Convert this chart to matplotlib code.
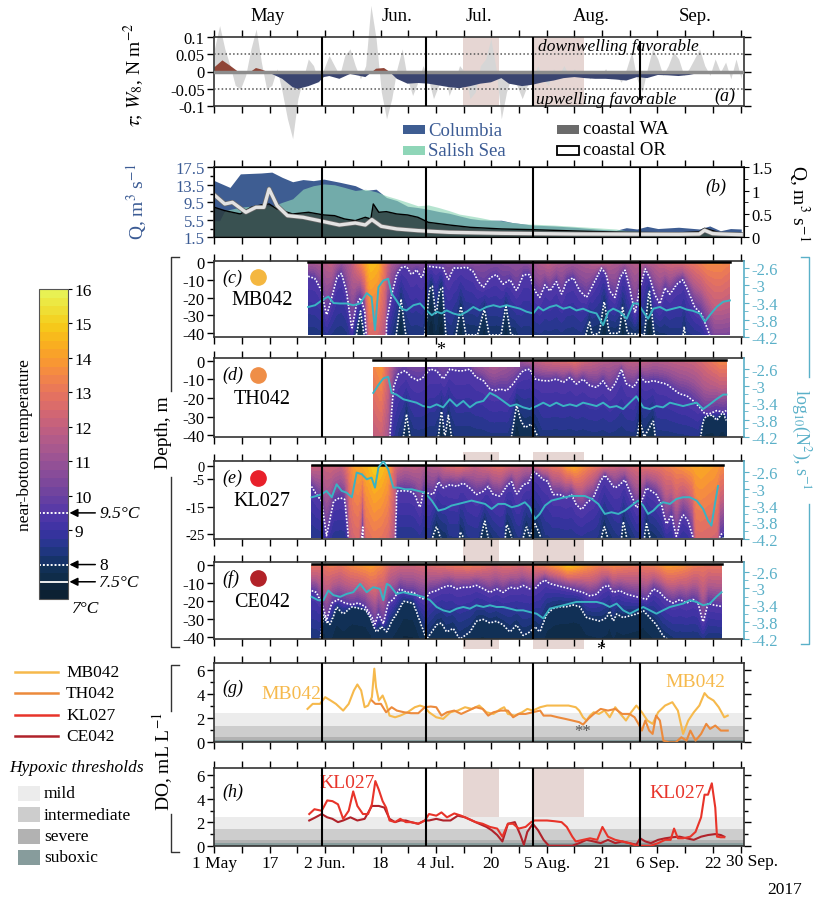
import numpy as np
import matplotlib
matplotlib.use("Agg")
import matplotlib.pyplot as plt
import matplotlib.transforms as mtransforms
import matplotlib.patheffects as pe
from matplotlib.colors import LinearSegmentedColormap
from matplotlib.patches import Rectangle
from matplotlib.lines import Line2D

plt.rcParams['font.family'] = ['Liberation Serif', 'DejaVu Serif']
plt.rcParams['mathtext.fontset'] = 'stix'
plt.rcParams['axes.unicode_minus'] = False

# ---------------- data (days since 1 May 2017) ----------------
TICK_DAYS = list(range(0, 153, 8))
TICK_LABELS = {0: "1 May", 16: "17", 32: "2 Jun.", 48: "18", 64: "4 Jul.", 80: "20",
               96: "5 Aug.", 112: "21", 128: "6 Sep.", 144: "22"}
END_LABEL = (155.3, "30 Sep.")
MONTH_LINES = [31, 61, 92, 123]
MONTH_NAMES = ["May", "Jun.", "Jul.", "Aug.", "Sep."]
MONTH_POS = [15.5, 52.7, 76.3, 109.0, 139.0]
SHADE = [(71.9, 82.3), (92.0, 106.7)]

# (a) wind stress
W8_STEP = 1.507
W8 = [0.065, 0.132, 0.065, 0.017, -0.04, -0.05, -0.011, 0.065, 0.122, 0.027,
      -0.05, -0.04, 0.008, -0.059, -0.136, -0.193, -0.078, -0.021, 0.036, 0.017,
      -0.031, 0.008, 0.046, 0.017, -0.011, 0.046, 0.065, 0.017, -0.021, 0.017,
      0.19, 0.094, -0.059, -0.136, -0.078, 0.008, 0.065, -0.021, -0.069, -0.031,
      0.017, -0.021, -0.078, -0.04, -0.002, -0.069, -0.031, 0.017, -0.002, -0.078,
      -0.059, 0.017, 0.036, 0.094, 0.008, -0.136, -0.059, -0.011, -0.04, -0.078,
      -0.04, -0.021, 0.017, -0.021, -0.04, 0.008, -0.011, 0.017, -0.011, 0.008,
      -0.011, -0.002, -0.021, -0.002, -0.011, 0.008, -0.021, -0.011, -0.031, 0.008,
      0.056, -0.021, -0.059, 0.008, 0.065, 0.036, -0.011, 0.017, 0.056, 0.036,
      -0.011, 0.008, 0.036, 0.065, 0.017, -0.011, 0.036, -0.002, 0.027, -0.021,
      0.036, -0.021]
TAU_DAYS = [0, 2.3, 4.5, 6.8, 9.1, 10.6, 12.0, 13.5, 15.1, 16.6, 19.6, 22.6, 24.1, 27.2, 30.1,
            31.6, 33.2, 36.1, 39.2, 42.2, 43.6, 45.2, 46.7, 49.0, 50.5, 52.7, 55.8, 58.8, 61.8,
            64.8, 67.8, 70.8, 73.9, 76.8, 79.9, 82.9, 85.1, 88.9, 91.9, 94.9, 98.0, 100.9, 104.0,
            107.0, 110.0, 113.0, 116.0, 119.0, 122.1, 125.0, 128.1, 131.0, 134.1, 137.1, 140.1,
            143.1, 146.2, 149.1, 152.2]
TAU = [0.012, 0.032, 0.017, 0, -0.007, 0, 0.010, 0.006, 0, -0.007, -0.021, -0.045, -0.05,
       -0.042, -0.031, -0.016, -0.013, -0.021, -0.007, -0.013, -0.016, -0.004, 0.008, 0.010, 0,
       -0.021, -0.035, -0.033, -0.035, -0.040, -0.045, -0.048, -0.042, -0.035, -0.031, -0.019,
       -0.035, -0.042, -0.038, -0.031, -0.026, -0.019, -0.016, -0.019, -0.021, -0.021, -0.023,
       -0.026, -0.016, -0.019, -0.010, -0.011, -0.013, -0.010, -0.004, -0.004, -0.002, 0, -0.002]
SEP_LINE_SPAN = (-0.079, 0.084)

# (b) river discharge
COL_DAYS = [0, 4.5, 7.5, 13.5, 16.6, 19.6, 22.6, 25.6, 28.6, 31.6, 36.1, 40.7, 43.6, 46.7, 49.7,
            52.7, 55.8, 58.8, 61.8, 64.8, 67.8, 70.8, 73.9, 76.8, 79.9, 82.9, 85.9, 88.9, 91.9,
            98.0, 104.0, 110.0, 116.0, 119.0, 122.1, 125.0, 128.1, 134.1, 140.1, 143.1, 146.2,
            149.1, 152.2]
COLUMBIA = [14.45, 12.9, 16.0, 16.2, 16.4, 15.2, 14.2, 14.7, 14.45, 14.8, 14.1, 13.3, 12.2, 12.5,
            10.6, 9.9, 8.6, 8.3, 7.9, 7.4, 7.0, 6.4, 5.8, 5.5, 5.4, 5.4, 4.9, 4.6, 4.3, 4.1, 3.8,
            3.4, 3.1, 3.7, 3.4, 4.0, 3.5, 3.8, 3.4, 4.1, 3.0, 3.5, 3.4]
SAL_DAYS = [0, 1.5, 3.0, 7.5, 13.5, 16.6, 19.6, 22.6, 25.6, 28.6, 31.6, 34.7, 37.6, 40.7, 43.6,
            46.7, 49.7, 52.7, 55.8, 58.8, 61.8, 64.8, 67.8, 70.8, 73.9, 76.8, 79.9, 82.9, 85.9,
            88.9, 98.0, 104.0, 110.0, 116.0, 119.0, 125.0, 134.1, 143.1, 152.2]
SALISH = [5.3, 5.3, 7.6, 8.4, 8.8, 8.6, 9.5, 10.3, 12.5, 13.3, 13.7, 13.5, 12.9, 12.2, 12.5, 11.9,
          11.0, 10.3, 9.5, 8.7, 8.9, 8.3, 7.6, 6.8, 6.4, 6.0, 5.5, 5.3, 4.9, 4.6, 4.3, 4.0, 3.7,
          3.4, 3.0, 2.8, 2.6, 2.4, 2.2]
WA_DAYS = [0, 3.0, 7.5, 10.6, 13.5, 15.8, 18.1, 22.6, 27.2, 31.6, 34.7, 37.6, 40.7, 43.6, 45.2,
           45.9, 47.5, 49.7, 52.7, 55.8, 58.8, 61.8, 67.8, 73.9, 82.9, 91.9, 104.0, 119.0, 134.1,
           140.1, 141.6, 146.2, 152.2]
COASTAL_WA = [0.643, 0.571, 0.5, 0.643, 0.693, 0.714, 0.607, 0.5, 0.536, 0.479, 0.464, 0.393,
              0.357, 0.429, 0.393, 0.714, 0.536, 0.55, 0.5, 0.479, 0.429, 0.321, 0.264, 0.214,
              0.179, 0.164, 0.136, 0.107, 0.093, 0.121, 0.193, 0.093, 0.064]
OR_DAYS = [0, 3.0, 5.2, 9.1, 12.0, 14.3, 15.8, 18.1, 21.1, 25.6, 31.6, 36.1, 40.7, 43.6, 45.5,
           48.2, 52.7, 58.8, 67.8, 82.9, 104.0, 134.1, 140.1, 141.6, 143.9, 146.2, 152.2]
COASTAL_OR = [0.907, 0.714, 0.75, 0.536, 0.643, 0.643, 1.036, 0.679, 0.464, 0.429, 0.336, 0.264,
              0.307, 0.264, 0.379, 0.236, 0.179, 0.143, 0.107, 0.086, 0.071, 0.064, 0.07, 0.15,
              0.08, 0.071, 0.057]

# (c) MB042: surface temperature, 9.5C and 8C isotherm depths, log10 N2
MB_RANGE = (27.1, 148.9, -41.0)
MB_TS_D = [27.1, 30.8, 33.7, 36.6, 39.5, 41.4, 43.3, 45.2, 47.2, 49.1, 51.0, 53.9, 57.8, 61.6,
           65.5, 69.3, 72.2, 77.0, 81.8, 86.6, 90.5, 92.4, 96.3, 100.1, 104.0, 107.8, 111.7,
           115.5, 119.4, 123.2, 127.1, 130.9, 134.8, 138.6, 142.5, 146.3, 148.9]
MB_TS = [11.3, 11.5, 12.0, 11.0, 11.8, 13.0, 14.0, 14.8, 14.5, 13.0, 11.5, 10.8, 10.6, 10.4,
         10.3, 10.6, 11.0, 10.6, 10.5, 10.8, 10.8, 11.3, 12.0, 11.5, 11.3, 11.5, 12.2, 11.5,
         11.5, 11.8, 11.8, 12.3, 12.6, 13.0, 13.6, 13.6, 13.3]
MB_Z95_D = [27.1, 29.1, 31.0, 32.4, 33.9, 35.3, 36.8, 38.2, 39.7, 41.0, 42.2, 43.5, 44.8, 49.1,
            49.8, 51.2, 52.6, 54.1, 55.5, 57.0, 58.4, 59.9, 61.0, 62.3, 64.2, 66.1, 67.6, 69.0,
            70.9, 72.9, 74.8, 76.2, 77.7, 79.6, 81.5, 83.4, 85.4, 87.3, 89.2, 91.1, 92.6, 94.0,
            95.5, 96.9, 98.8, 100.3, 101.7, 103.7, 105.6, 107.5, 109.4, 111.8, 113.3, 114.2,
            115.7, 117.1, 118.6, 120.0, 121.5, 122.9, 124.4, 125.8, 127.2, 128.7, 130.1, 131.6,
            133.5, 135.4, 136.9, 138.8, 140.7, 142.6, 144.6, 148.9]
MB_Z95 = [-7.9, -9.2, -16.2, -30.0, -19.9, -8.8, -6.1, -16.2, -38, -24, -20, -28, -80, -80,
          -32.8, -18.0, -7.0, -2.9, -2.4, -7.0, -4.2, -8.8, -2.4, -2.4, -2.9, -3.3, -9.8, -3.3,
          -3.3, -2.9, -5.2, -10.7, -14.4, -8.8, -7.0, -12.5, -9.8, -16.2, -7.0, -7.0, -16.2,
          -19.9, -12.5, -16.2, -10.7, -18.0, -10.7, -8.8, -16.2, -19.9, -12.5, -3.3, -7.0,
          -16.2, -19.9, -8.8, -4.2, -14.4, -29.1, -14.4, -3.3, -8.8, -18.0, -23.6, -14.4, -18.0,
          -12.5, -9.8, -16.2, -25.4, -29.1, -38.3, -50, -50]
MB_Z8_D = [27.1, 39.5, 41.0, 42.2, 43.3, 44.3, 51.0, 52.5, 53.9, 55.3, 56.8, 60.2, 61.1, 62.1,
           63.0, 64.0, 65.0, 65.9, 66.9, 68.3, 69.8, 71.2, 72.7, 76.0, 78.0, 79.4, 82.8, 84.2,
           85.7, 87.1, 88.6, 105.9, 107.3, 108.3, 109.2, 111.2, 112.6, 114.1, 116.9, 117.9,
           119.4, 124.2, 125.6, 127.1, 134.8, 135.7, 136.7, 146.3, 147.7, 148.9]
MB_Z8 = [-50, -50, -41, -27, -41, -50, -50, -41, -20, -41, -50, -50, -35, -15, -13.5, -30, -16,
         -14, -41, -50, -41, -24, -41, -41, -26, -41, -41, -24, -41, -41, -50, -50, -41, -33,
         -41, -40, -21.5, -40, -40, -25, -40, -41, -14.5, -41, -50, -36, -50, -50, -34, -40]
MB_N2_D = [27.1, 29.1, 31.0, 32.9, 34.4, 36.3, 38.2, 40.1, 42.1, 44.0, 45.4, 46.4, 47.4, 48.8,
           50.2, 51.2, 52.6, 54.1, 55.5, 57.5, 59.4, 61.3, 62.8, 64.2, 65.6, 67.1, 69.0, 70.9,
           72.9, 74.8, 76.7, 78.6, 80.6, 82.5, 84.4, 86.3, 88.3, 90.2, 92.1, 93.6, 95.0, 96.9,
           98.8, 100.8, 102.7, 104.6, 106.5, 108.5, 110.4, 112.3, 113.8, 115.2, 117.1, 119.1,
           121.0, 122.4, 123.9, 125.3, 126.8, 128.7, 130.6, 132.5, 134.5, 136.4, 138.3, 140.2,
           141.7, 143.1, 145.1, 147.0, 148.9]
MB_N2 = [-3.50, -3.46, -3.35, -3.26, -3.41, -3.42, -3.42, -3.46, -3.42, -3.18, -3.27, -4.03,
         -3.04, -2.89, -2.85, -3.19, -3.35, -3.54, -3.58, -3.46, -3.42, -3.58, -3.69, -3.61,
         -3.65, -3.58, -3.65, -3.69, -3.61, -3.50, -3.58, -3.50, -3.46, -3.50, -3.46, -3.50,
         -3.54, -3.61, -3.65, -3.50, -3.58, -3.50, -3.46, -3.54, -3.50, -3.58, -3.54, -3.61,
         -3.65, -3.92, -3.61, -3.54, -3.61, -3.77, -3.42, -3.42, -3.61, -3.77, -3.54, -3.50,
         -3.58, -3.54, -3.50, -3.56, -3.59, -3.65, -3.84, -3.69, -3.50, -3.38, -3.35]

# (d) TH042
TH_RANGE = (45.9, 147.9, -41.0)
TH_GAP = (88.4, -3.4)   # no data above this depth before this day
TH_TS_D = [45.9, 48.1, 50.7, 52.9, 57.8, 61.6, 65.5, 69.3, 73.2, 77.0, 80.9, 84.7, 88.6, 92.4,
           96.3, 100.1, 104.0, 107.8, 111.7, 115.5, 119.4, 123.2, 127.1, 130.9, 134.8, 138.6,
           142.5, 146.3, 147.9]
TH_TS = [13.5, 14.0, 12.0, 10.6, 10.4, 10.6, 10.5, 10.6, 10.8, 11.5, 11.8, 11.3, 11.0, 11.8,
         12.3, 12.5, 12.8, 12.2, 11.8, 11.5, 11.8, 12.0, 11.6, 11.8, 12.0, 12.2, 12.8, 13.5, 13.5]
TH_Z95_D = [45.9, 50.0, 50.7, 51.7, 53.1, 55.1, 57.0, 58.9, 60.3, 62.3, 64.2, 66.1, 68.0, 70.0,
            71.9, 73.8, 75.7, 77.7, 79.6, 81.0, 82.5, 84.4, 86.3, 88.3, 89.2, 91.1, 92.6, 95.0,
            96.9, 98.8, 100.8, 102.7, 104.6, 106.5, 108.5, 110.4, 112.3, 114.2, 115.7, 117.6,
            119.1, 121.0, 122.9, 124.8, 126.8, 128.7, 130.6, 132.5, 134.5, 136.4, 138.3, 140.2,
            141.7, 143.1, 145.1, 147.0, 147.9]
TH_Z95 = [-80, -80, -39.4, -14.2, -7.0, -5.2, -8.8, -10.6, -8.8, -4.3, -5.2, -9.7, -4.3, -5.2,
          -5.2, -4.3, -8.8, -10.6, -15.1, -16.0, -15.1, -16.0, -12.4, -7.0, -5.2, -4.3, -9.7,
          -10.6, -10.6, -9.7, -11.5, -8.8, -12.4, -9.7, -13.3, -14.2, -10.6, -16.0, -12.4, -4.3,
          -12.4, -14.2, -8.8, -11.5, -10.6, -11.5, -12.4, -15.1, -17.8, -18.7, -21.4, -25.0,
          -28.6, -28.6, -26.8, -27.7, -26.8]
TH_Z8_D = [45.9, 46.9, 47.8, 48.8, 49.6, 53.4, 54.6, 55.5, 56.5, 57.8, 63.5, 64.7, 65.6, 66.6,
           67.6, 68.5, 69.8, 84.7, 85.8, 87.3, 88.5, 89.7, 91.6, 93.5, 94.8, 121.3, 122.9, 124.2,
           126.8, 128.0, 139.6, 141.2, 143.1, 145.1, 147.0, 147.9]
TH_Z8 = [-90, -90, -90, -90, -90, -50, -41, -28.6, -41, -50, -50, -41, -26, -41, -29, -41, -50,
         -50, -41, -23.4, -32, -36, -34, -41, -50, -50, -32, -41, -32, -50, -50, -32, -27, -32,
         -27, -32]
TH_N2_D = [45.9, 47.4, 48.8, 50.2, 51.2, 52.6, 54.6, 56.5, 58.4, 60.3, 62.3, 64.2, 66.1, 68.0,
           70.0, 71.9, 73.8, 75.7, 77.7, 79.6, 81.5, 83.4, 85.4, 87.3, 89.2, 91.1, 93.1, 95.0,
           96.9, 98.8, 100.8, 102.7, 104.6, 106.5, 108.5, 110.4, 112.3, 114.2, 116.2, 118.1,
           120.0, 121.9, 123.9, 125.8, 127.7, 129.6, 131.6, 133.5, 135.4, 137.3, 139.3, 141.2,
           143.1, 145.0, 147.0, 147.9]
TH_N2 = [-3.17, -2.98, -2.83, -2.79, -3.17, -3.21, -3.32, -3.36, -3.40, -3.48, -3.51, -3.44,
         -3.51, -3.32, -3.48, -3.36, -3.51, -3.40, -3.36, -3.17, -3.25, -3.36, -3.48, -3.44,
         -3.51, -3.55, -3.48, -3.40, -3.48, -3.40, -3.48, -3.44, -3.48, -3.40, -3.44, -3.48,
         -3.40, -3.51, -3.48, -3.55, -3.40, -3.25, -3.51, -3.55, -3.48, -3.51, -3.40, -3.44,
         -3.48, -3.44, -3.40, -3.55, -3.44, -3.32, -3.21, -3.21]

# (e) KL027
KL_RANGE = (28.1, 147.0, -26.3)
KL_TS_D = [28.1, 30.8, 33.7, 36.6, 38.5, 40.4, 42.4, 44.3, 46.2, 48.1, 50.0, 52.0, 54.9, 57.8,
           61.6, 65.5, 67.4, 71.2, 75.1, 78.9, 82.8, 86.6, 90.5, 92.4, 96.3, 100.1, 102.0, 104.0,
           105.9, 109.7, 113.6, 117.4, 121.3, 125.1, 129.0, 132.8, 136.7, 140.5, 144.4, 147.0]
KL_TS = [12.2, 12.0, 12.3, 12.0, 13.0, 14.0, 14.3, 14.5, 15.0, 14.8, 14.3, 12.5, 11.8, 12.0,
         11.5, 12.0, 12.5, 12.8, 12.0, 12.5, 12.8, 12.3, 11.8, 12.5, 12.8, 13.2, 14.0, 14.3,
         13.8, 13.0, 12.5, 12.0, 12.5, 12.8, 13.0, 13.5, 14.0, 14.3, 14.0, 13.6]
KL_Z95_D = [28.1, 29.5, 31.0, 32.4, 34.4, 36.3, 37.7, 38.7, 39.2, 41.5, 42.8, 44.0, 51.7, 52.6,
            54.6, 56.5, 57.9, 59.4, 60.3, 61.3, 63.2, 64.7, 66.1, 68.0, 70.0, 71.9, 73.8, 75.7,
            77.7, 79.1, 80.6, 82.5, 84.4, 85.9, 87.3, 89.2, 90.7, 92.1, 93.6, 95.0, 96.4, 97.9,
            99.8, 101.7, 103.2, 104.6, 106.1, 107.5, 109.4, 111.4, 112.8, 114.2, 115.7, 117.1,
            118.6, 120.0, 122.0, 123.4, 124.8, 126.3, 127.7, 129.2, 130.6, 132.1, 133.5, 134.5,
            135.4, 136.9, 138.3, 139.3, 145.1, 146.0, 147.0]
KL_Z95 = [-7.5, -10.5, -12.9, -25.7, -12.9, -11.7, -12.3, -25.7, -60, -60, -20, -60, -60, -9.3,
          -9.1, -9.3, -10.5, -15.4, -9.3, -9.9, -10.5, -5.7, -8.1, -6.9, -7.5, -6.3, -8.1, -10.5,
          -9.3, -7.5, -10.5, -11.1, -7.5, -5.7, -10.5, -6.9, -6.3, -2.1, -3.3, -5.1, -5.7,
          -10.5, -10.5, -11.7, -10.5, -14.2, -16.0, -13.6, -11.7, -5.7, -3.3, -5.7, -8.1, -6.9,
          -5.1, -9.3, -15.4, -12.9, -8.1, -9.3, -10.5, -14.2, -21.4, -17.8, -26.3, -20.2, -17.8,
          -20.2, -26.3, -60, -60, -25.7, -24.4]
KL_Z8_D = [28.1, 62.1, 63.0, 64.2, 65.2, 67.1, 67.9, 70.3, 70.9, 71.9, 73.2, 76.0, 77.0, 78.1,
           79.1, 83.3, 84.4, 85.9, 88.1, 89.2, 90.2, 91.1, 92.6, 94.0, 95.8, 110.7, 111.8,
           112.6, 113.6, 116.9, 118.1, 119.1, 123.2, 124.2, 124.8, 125.8, 132.8, 144.4, 146.0,
           147.0]
KL_Z8 = [-35, -35, -26, -22, -26, -28, -35, -35, -24, -26, -35, -35, -26, -20, -26, -35, -21,
         -26, -35, -26, -22, -26, -21, -25, -35, -35, -26, -22, -26, -35, -20, -26, -35, -26,
         -21, -26, -35, -35, -28, -26]
KL_N2_D = [28.1, 29.5, 31.0, 32.4, 33.9, 35.3, 36.8, 38.2, 39.7, 41.1, 42.6, 44.0, 45.4, 46.4,
           47.4, 48.8, 50.2, 51.7, 53.1, 55.1, 57.0, 58.9, 60.8, 62.8, 64.7, 66.6, 68.5, 70.5,
           72.4, 74.3, 76.2, 78.2, 80.1, 82.0, 83.9, 85.9, 87.8, 89.7, 91.1, 92.6, 94.0, 95.5,
           97.4, 99.3, 101.3, 103.2, 105.1, 107.0, 109.0, 110.9, 112.8, 114.7, 116.7, 118.6,
           120.5, 122.4, 123.9, 125.3, 126.8, 128.2, 129.6, 131.6, 133.5, 135.4, 137.3, 139.3,
           141.2, 142.6, 143.6, 144.6, 145.5]
KL_N2 = [-3.20, -3.17, -3.13, -3.05, -3.20, -2.89, -3.05, -3.09, -3.20, -2.61, -2.65, -2.77,
         -2.73, -2.97, -2.49, -2.33, -2.53, -2.97, -2.97, -3.01, -3.01, -3.05, -3.09, -3.28,
         -3.52, -3.48, -3.40, -3.36, -3.32, -3.28, -3.32, -3.36, -3.48, -3.36, -3.36, -3.44,
         -3.40, -3.32, -3.44, -3.72, -3.60, -3.40, -3.28, -3.24, -3.20, -3.17, -3.17, -3.17,
         -3.24, -3.36, -3.60, -3.56, -3.60, -3.52, -3.40, -3.28, -3.40, -3.60, -3.52, -3.40,
         -3.32, -3.36, -3.24, -3.20, -3.20, -3.28, -3.48, -3.76, -3.88, -3.36, -2.93]

# (f) CE042
CE_RANGE = (28.1, 146.6, -41.0)
CE_TS_D = [28.1, 30.8, 33.7, 36.6, 39.5, 42.4, 45.2, 48.1, 51.0, 53.9, 57.8, 61.6, 65.5, 69.3,
           73.2, 77.0, 80.9, 84.7, 88.6, 92.4, 96.3, 100.1, 102.0, 104.0, 107.8, 111.7, 115.5,
           119.4, 123.2, 127.1, 130.9, 134.8, 138.6, 142.5, 146.6]
CE_TS = [13.0, 12.8, 13.2, 13.0, 13.5, 13.8, 14.0, 13.5, 12.5, 12.3, 12.3, 12.5, 12.8, 13.0,
         13.2, 13.0, 12.5, 12.8, 12.5, 13.0, 13.5, 14.2, 14.8, 14.5, 13.8, 13.2, 13.5, 13.2,
         13.0, 13.3, 14.0, 13.8, 13.2, 13.0, 13.0]
CE_Z95_D = [28.1, 29.5, 31.0, 32.4, 33.9, 35.8, 37.7, 39.7, 41.6, 43.5, 45.4, 46.4, 47.4, 48.8,
            50.2, 51.7, 53.6, 55.5, 57.5, 59.4, 60.8, 62.3, 64.2, 66.1, 68.0, 70.0, 71.9, 73.8,
            75.7, 77.7, 79.6, 81.5, 83.4, 85.4, 87.3, 89.2, 91.1, 92.6, 94.0, 95.5, 96.9, 98.8,
            100.8, 102.7, 104.6, 106.5, 108.5, 110.4, 112.3, 113.8, 115.2, 117.1, 119.1, 121.0,
            122.9, 124.8, 126.8, 128.7, 130.6, 132.5, 134.5, 136.4, 138.3, 139.8, 141.2, 142.6,
            144.1, 146.6]
CE_Z95 = [-14.1, -15.1, -21.0, -30.8, -21.0, -19.0, -21.0, -22.0, -21.0, -22.9, -28.8, -32.7,
          -26.9, -32.7, -21.0, -19.0, -13.1, -15.1, -15.1, -18.0, -19.0, -15.1, -14.1, -12.2,
          -11.2, -13.1, -12.2, -12.2, -11.2, -13.1, -15.1, -13.1, -15.1, -12.2, -13.1, -11.2,
          -13.1, -13.1, -10.2, -8.2, -10.2, -11.2, -12.2, -13.1, -14.1, -15.1, -17.1, -16.1,
          -12.2, -11.2, -15.1, -14.1, -16.1, -17.1, -18.0, -19.0, -13.1, -15.1, -19.0, -21.0,
          -19.0, -21.0, -19.0, -21.0, -31.8, -21.0, -22.0, -22.9]
CE_Z8_D = [28.1, 30.3, 31.5, 33.4, 35.3, 37.2, 39.7, 42.1, 44.5, 45.9, 46.9, 48.3, 49.8, 51.2,
           52.6, 54.6, 57.5, 59.4, 61.3, 64.2, 65.6, 67.1, 69.0, 70.9, 73.8, 75.7, 77.7, 79.6,
           81.5, 83.4, 85.4, 87.3, 89.2, 91.1, 92.6, 94.0, 96.0, 97.9, 99.8, 101.7, 103.7, 105.6,
           107.5, 109.4, 111.4, 113.3, 114.2, 115.2, 116.2, 118.1, 120.0, 122.0, 123.9, 125.8,
           127.7, 129.6, 131.6, 133.5, 146.6]
CE_Z8 = [-45, -45, -27, -33, -23, -27, -23, -24, -25, -33, -37, -34, -37, -31, -27, -20, -21,
         -31, -41, -33, -32, -37, -35, -41, -37, -31, -30, -32, -31, -33, -37, -33, -39, -37,
         -34, -37, -27, -24, -23, -23, -22, -23, -29, -30, -31, -29, -25, -31, -27, -29, -28,
         -27, -25, -29, -33, -39, -42, -45, -45]
CE_N2_D = [28.1, 30.0, 31.5, 32.9, 34.4, 36.3, 38.2, 40.1, 42.1, 44.0, 45.9, 47.8, 48.8, 49.8,
           50.7, 52.6, 54.6, 56.5, 58.4, 60.3, 62.3, 64.2, 66.1, 68.0, 70.0, 71.9, 73.8, 75.7,
           77.7, 79.6, 81.5, 83.4, 85.4, 87.3, 89.2, 91.1, 93.1, 95.0, 96.9, 98.8, 100.8, 102.7,
           104.6, 106.5, 108.5, 110.4, 112.3, 114.2, 116.2, 118.1, 120.0, 121.9, 123.9, 125.8,
           127.7, 129.6, 131.6, 133.5, 135.4, 137.3, 139.3, 141.2, 143.1, 145.0, 146.5]
CE_N2 = [-3.20, -3.28, -3.28, -3.05, -3.16, -3.20, -3.13, -3.09, -2.89, -3.09, -2.97, -3.01,
         -3.28, -2.89, -2.93, -3.13, -3.09, -3.13, -3.16, -3.20, -3.28, -3.44, -3.52, -3.56,
         -3.48, -3.44, -3.48, -3.40, -3.44, -3.40, -3.44, -3.44, -3.48, -3.52, -3.52, -3.56,
         -3.60, -3.71, -3.48, -3.44, -3.40, -3.36, -3.32, -3.32, -3.32, -3.32, -3.36, -3.44,
         -3.36, -3.52, -3.60, -3.52, -3.44, -3.52, -3.60, -3.52, -3.44, -3.40, -3.36, -3.28,
         -3.32, -3.40, -3.36, -3.20, -3.09]

# (g), (h) dissolved oxygen, mL/L
MB_DO_D = [26.9, 28.4, 30.5, 32.0, 33.6, 35.1, 37.2, 38.8, 40.3, 41.3, 42.4, 43.4, 44.4, 45.5,
           46.2, 46.7, 47.5, 48.6, 49.6, 50.6, 52.2, 53.7, 55.8, 57.9, 59.4, 60.8, 62.0, 64.1,
           66.1, 68.2, 70.3, 72.4, 74.4, 76.5, 78.6, 80.6, 82.7, 83.7, 84.8, 86.8, 88.9, 90.4,
           92.0, 94.1, 96.1, 98.2, 100.3, 102.3, 104.4, 105.4, 106.5, 107.5, 108.5, 109.6, 111.1,
           112.7, 114.2, 115.8, 117.3, 118.9, 120.4, 121.9, 123.5, 125.1, 126.6, 128.2, 130.2,
           132.3, 133.9, 135.4, 136.9, 138.5, 140.1, 141.6, 142.6, 144.2, 145.7, 147.3, 148.3]
MB_DO = [2.79, 3.21, 3.21, 3.77, 3.49, 3.21, 2.65, 3.21, 4.33, 4.83, 4.33, 2.93, 3.07, 3.77,
         6.15, 4.61, 3.49, 3.91, 3.21, 2.23, 2.09, 2.23, 2.51, 2.93, 3.07, 2.93, 2.51, 2.09, 1.96,
         2.51, 2.65, 2.93, 2.79, 3.07, 2.51, 2.37, 2.79, 2.93, 2.37, 2.23, 2.51, 2.79, 2.65,
         2.93, 3.07, 3.07, 3.07, 3.07, 2.93, 2.65, 2.09, 1.82, 2.23, 2.51, 2.37, 2.65, 2.09,
         2.93, 2.37, 1.82, 2.51, 3.07, 2.51, 1.82, 1.54, 2.51, 3.07, 3.35, 2.65, 0.70, 1.82,
         2.51, 3.07, 4.11, 3.77, 3.49, 2.93, 2.09, 2.23]
TH_DO_D = [45.5, 46.5, 48.1, 49.6, 51.2, 52.7, 54.8, 56.8, 58.9, 60.8, 62.5, 64.1, 65.6, 67.2,
           69.3, 71.3, 73.4, 75.5, 77.5, 79.1, 80.6, 82.7, 84.8, 86.3, 87.9, 89.9, 92.0, 94.1,
           95.1, 97.2, 99.2, 101.3, 103.4, 105.4, 106.5, 108.0, 109.6, 111.6, 113.7, 115.8,
           117.8, 119.9, 121.4, 122.5, 123.5, 124.5, 125.6, 126.6, 127.6, 128.7, 129.7, 131.3,
           133.3, 134.9, 136.4, 137.5, 139.0, 140.6, 142.1, 143.2, 144.7, 146.3, 148.3]
TH_DO = [3.49, 3.21, 3.21, 2.51, 2.93, 2.65, 2.51, 2.43, 2.43, 2.93, 2.99, 2.93, 2.23, 2.51,
         2.65, 2.37, 2.65, 2.93, 2.79, 2.23, 2.51, 2.65, 2.65, 2.09, 2.37, 2.37, 2.51, 2.65,
         2.23, 2.23, 2.09, 1.96, 1.82, 1.68, 1.48, 1.96, 2.37, 2.79, 2.65, 2.79, 2.37, 2.37,
         2.09, 1.54, 0.98, 1.82, 0.98, 0.70, 2.23, 1.82, 0.14, 0.0, 0.0, 0.42, 0.14, 0.98, 0.14,
         0.70, 1.54, 1.12, 1.40, 0.98, 0.98]
KL_DO_D = [27.4, 28.9, 31.0, 32.6, 34.1, 35.7, 37.2, 38.8, 40.1, 41.3, 42.9, 44.4, 45.5, 46.5,
           47.5, 48.6, 49.6, 50.6, 52.2, 53.7, 55.3, 56.8, 58.9, 60.8, 62.0, 64.1, 65.6, 67.2,
           69.3, 71.3, 73.4, 75.5, 77.5, 79.6, 81.7, 83.2, 84.8, 86.3, 87.9, 89.9, 91.5, 92.5,
           94.1, 96.1, 98.2, 100.3, 101.8, 103.4, 104.4, 106.5, 108.5, 110.6, 112.1, 113.7,
           115.8, 117.8, 119.9, 121.9, 124.0, 126.1, 128.2, 130.2, 131.8, 132.8, 133.9, 135.4,
           137.5, 139.0, 140.6, 141.6, 142.6, 143.7, 144.7, 145.2, 146.3, 147.3]
KL_DO = [2.70, 3.11, 2.98, 3.86, 3.80, 3.53, 2.29, 2.98, 4.63, 3.39, 2.70, 2.70, 3.53, 5.51,
         4.77, 3.80, 3.25, 2.15, 2.01, 2.29, 2.01, 2.01, 1.87, 2.15, 2.70, 2.56, 2.84, 2.42,
         2.75, 2.56, 2.29, 2.01, 1.87, 1.60, 1.46, 0.77, 1.87, 1.87, 1.46, 1.60, 2.01, 2.15,
         2.15, 2.15, 2.09, 2.01, 1.60, 0.77, 0.36, 0.50, 0.63, 0.50, 1.60, 0.77, 0.50, 0.36,
         0.22, 0.0, 0.0, 0.0, 0.22, 0.50, 0.50, 1.46, 0.63, 0.63, 0.77, 1.18, 2.42, 4.35, 4.35,
         5.32, 3.25, 0.77, 0.72, 0.72]
CE_DO_D = [27.4, 28.9, 31.0, 32.6, 34.1, 35.7, 37.2, 39.3, 41.3, 43.4, 45.5, 47.5, 49.1, 50.6,
           52.2, 53.7, 55.3, 56.8, 58.9, 60.8, 62.0, 64.1, 66.1, 68.2, 70.3, 72.4, 74.4, 76.5,
           78.6, 80.1, 81.7, 83.2, 84.8, 86.8, 88.4, 89.4, 90.4, 92.0, 93.5, 95.1, 96.6, 99.2,
           103.4, 105.4, 107.5, 109.6, 111.6, 113.7, 115.8, 117.8, 119.9, 121.9, 123.0, 124.5,
           126.1, 128.2, 130.2, 132.3, 134.4, 136.4, 138.5, 140.6, 142.6, 144.7, 146.3, 147.3]
CE_DO = [2.15, 2.37, 2.70, 2.42, 2.29, 2.01, 2.15, 2.42, 2.15, 2.29, 3.39, 3.39, 3.25, 2.29,
         2.01, 2.15, 2.15, 2.01, 1.87, 2.15, 2.15, 2.29, 2.15, 2.15, 2.56, 2.42, 2.15, 1.87,
         1.60, 1.32, 0.91, 0.36, 1.87, 2.01, 0.91, 0.08, 1.18, 1.87, 1.32, 0.50, 0.0, 0.0, 0.0,
         0.22, 0.50, 0.36, 0.22, 0.50, 0.22, 0.36, 0.22, 0.08, 0.63, 0.36, 0.22, 0.50, 0.63,
         0.72, 0.77, 0.63, 0.50, 0.77, 0.91, 0.99, 0.91, 0.77]
HYPOXIA_NAMES = ["mild", "intermediate", "severe", "suboxic"]
HYPOXIA_TOP = [2.46, 1.40, 0.47, 0.20]
HYPOXIA_COLORS = ["#ececec", "#cdcdcd", "#b2b2b2", "#879c9c"]

# ---------------- styling ----------------
W_PX, H_PX = 818, 903
X0, X1 = 214.4, 744.0
TICK_FS = 12
BLUE_TXT = "#3b5b94"
N2_COLOR = "#5ab0c8"
SHADE_COLOR = "#e6d6d3"
STATION_COLORS = {"MB042": "#f4b740", "TH042": "#ef8e47", "KL027": "#e8202a", "CE042": "#b22228"}
DO_COLORS = {"MB042": "#f6b94c", "TH042": "#ec8a3c", "KL027": "#e8342a", "CE042": "#b0222a"}
THERMAL = ['#0b1e2e', '#0e2a44', '#12325e', '#23378a', '#3b32a3', '#5438a8', '#6c429f',
           '#824a9a', '#975295', '#ad5a8c', '#c2607f', '#d6686f', '#e7745d', '#f38647',
           '#f99c2d', '#f9b41c', '#f5cd1a', '#eee23a', '#e6f55a']
cmap = LinearSegmentedColormap.from_list("thermal", THERMAL)
LEVELS = np.arange(7.0, 16.001, 0.25)


def box(top, bot):
    return [X0 / W_PX, 1 - bot / H_PX, (X1 - X0) / W_PX, (bot - top) / H_PX]


def style(ax, line_ax=None, labels=False, sep_span=None):
    ax.set_xlim(0, 153)
    ax.set_xticks(TICK_DAYS)
    ax.set_xticklabels([TICK_LABELS.get(d, "") for d in TICK_DAYS])
    ax.tick_params(axis='x', direction='out', top=True, bottom=True, length=5, width=1,
                   labelbottom=labels, labelsize=TICK_FS + 0.5, pad=2)
    ax.tick_params(axis='y', which='both', direction='out', width=1, labelsize=TICK_FS, pad=2)
    ax.tick_params(axis='y', which='major', length=5)
    ax.tick_params(axis='y', which='minor', length=3)
    for s in ax.spines.values():
        s.set_linewidth(1.2)
        s.set_color('#333333')
    tgt = line_ax if line_ax is not None else ax
    for i, d in enumerate(MONTH_LINES):
        if sep_span is not None and i == len(MONTH_LINES) - 1:
            lo, hi = ax.get_ylim()
            tgt.axvline(d, ymin=(sep_span[0] - lo) / (hi - lo), ymax=(sep_span[1] - lo) / (hi - lo),
                        color='black', lw=1.5, zorder=5)
        else:
            tgt.axvline(d, color='black', lw=1.5, zorder=5)


def temp_field(rng, ts_d, ts_v, a_d, a_v, b_d, b_v):
    t0, t1, zbot = rng
    t = np.linspace(t0, t1, 500)
    z = np.linspace(zbot, 0.0, 160)
    ts = np.maximum(np.interp(t, ts_d, ts_v), 9.6)
    a = np.interp(t, a_d, a_v)
    b = np.minimum(np.interp(t, b_d, b_v), a - 1.0)
    T = np.empty((z.size, t.size))
    for j in range(t.size):
        xp = [0.0, -0.5 * a[j], -a[j], -b[j], -b[j] + 30.0]
        fp = [ts[j], 9.5 + 0.6 * (ts[j] - 9.5), 9.5, 8.0, 7.2]
        T[:, j] = np.interp(-z, xp, fp)
    return t, z, np.clip(T, 7.01, 15.99)


fig = plt.figure(figsize=(W_PX / 100, H_PX / 100), dpi=100)

# ---------------- (a) ----------------
ax_a = fig.add_axes(box(37.7, 107.3))
ax_a.set_ylim(-0.1, 0.1)
style(ax_a, sep_span=SEP_LINE_SPAN)
ax_a.set_yticks([-0.1, -0.05, 0, 0.05, 0.1])
ax_a.set_yticklabels(["-0.1", "-0.05", "0", "0.05", "0.1"])
ax_a.tick_params(axis='y', right=True)
for s0, s1 in SHADE:
    ax_a.axvspan(s0, s1, color=SHADE_COLOR, lw=0, zorder=0.5)
w8_days = np.arange(len(W8)) * W8_STEP
ax_a.fill_between(w8_days, 0, W8, color='#d6d6d6', lw=0, zorder=1, clip_on=False)
tau = np.array(TAU)
ax_a.fill_between(TAU_DAYS, 0, tau, where=tau >= 0, interpolate=True, color='#8f4537', lw=0, zorder=2)
ax_a.fill_between(TAU_DAYS, 0, tau, where=tau <= 0, interpolate=True, color='#3a4570', lw=0, zorder=2)
ax_a.axhline(0, color='#8c8c8c', lw=2.5, zorder=3)
for yv in (0.05, -0.05):
    ax_a.axhline(yv, color='#555555', ls=(0, (1, 1.5)), lw=1.1, zorder=3)
ax_a.text(93.5, 0.072, "downwelling favorable", style='italic', fontsize=12.5, va='center', zorder=6)
ax_a.text(93.0, -0.078, "upwelling favorable", style='italic', fontsize=12.5, va='center', zorder=6)
ax_a.text(150.4, -0.068, "(a)", style='italic', fontsize=13, ha='right', va='center', zorder=6)
top_tr = mtransforms.blended_transform_factory(ax_a.transData, ax_a.transAxes)
for name, d in zip(MONTH_NAMES, MONTH_POS):
    ax_a.text(d, 1.30, name, transform=top_tr, ha='center', va='center', fontsize=13.5)


def fig_rect(x, ytop, w, h, **kw):
    fig.add_artist(Rectangle((x / W_PX, 1 - (ytop + h) / H_PX), w / W_PX, h / H_PX,
                             transform=fig.transFigure, **kw))


# legend between (a) and (b)
fig_rect(403, 126, 22, 9, color='#3e5d92', lw=0)
fig_rect(403, 147, 22, 9, color='#8fd6b8', lw=0)
fig_rect(557, 126, 22, 9, color='#6b6b6b', lw=0)
fig_rect(557, 147, 22, 9, facecolor='white', edgecolor='black', lw=1.3)
fig.text(428 / W_PX, 1 - 131 / H_PX, "Columbia", color=BLUE_TXT, fontsize=13.5, va='center')
fig.text(428 / W_PX, 1 - 152 / H_PX, "Salish Sea", color=BLUE_TXT, fontsize=13.5, va='center')
fig.text(583 / W_PX, 1 - 130 / H_PX, "coastal WA", fontsize=13.5, va='center')
fig.text(583 / W_PX, 1 - 151 / H_PX, "coastal OR", fontsize=13.5, va='center')

# ---------------- (b) ----------------
ax_b = fig.add_axes(box(168.3, 238.3))
ax_b2 = ax_b.twinx()
style(ax_b, line_ax=ax_b2)
ax_b.set_ylim(1.5, 17.5)
ax_b.set_yticks([1.5, 5.5, 9.5, 13.5, 17.5])
ax_b.set_yticks([3.5, 7.5, 11.5, 15.5], minor=True)
ax_b.tick_params(axis='y', labelcolor=BLUE_TXT)
ax_b.fill_between(COL_DAYS, 1.5, COLUMBIA, color='#3e5d92', lw=0)
ax_b.fill_between(SAL_DAYS, 1.5, SALISH, color='#8fd6b8', alpha=0.65, lw=0)
ax_b2.set_ylim(0, 1.5)
ax_b2.set_yticks([0, 0.5, 1, 1.5])
ax_b2.set_yticklabels(["0", "0.5", "1", "1.5"])
ax_b2.set_yticks([0.25, 0.75, 1.25], minor=True)
ax_b2.tick_params(axis='y', which='both', direction='out', labelsize=TICK_FS, pad=2)
ax_b2.tick_params(axis='y', which='minor', length=3)
ax_b2.fill_between(WA_DAYS, 0, COASTAL_WA, color='#2b3b3b', alpha=0.8, lw=0)
ax_b2.plot(WA_DAYS, COASTAL_WA, color='black', lw=1.0)
ax_b2.plot(OR_DAYS, COASTAL_OR, color='#e2e2e2', lw=2.4,
           path_effects=[pe.Stroke(linewidth=3.4, foreground='#6a6a6a'), pe.Normal()])
ax_b2.text(145, 1.1, "(b)", style='italic', fontsize=13, ha='center', va='center')

# ---------------- (c)-(f) ----------------
stations = [
    ("MB042", "(c)", box(262.0, 338.3), (-42.3, 0.6), [0, -10, -20, -30, -40], (-4.18, -2.44),
     MB_RANGE, MB_TS_D, MB_TS, MB_Z95_D, MB_Z95, MB_Z8_D, MB_Z8, MB_N2_D, MB_N2, None),
    ("TH042", "(d)", box(359.0, 437.7), (-40.9, 1.6), [0, -10, -20, -30, -40], (-4.13, -2.35),
     TH_RANGE, TH_TS_D, TH_TS, TH_Z95_D, TH_Z95, TH_Z8_D, TH_Z8, TH_N2_D, TH_N2, TH_GAP),
    ("KL027", "(e)", box(462.3, 540.0), (-26.8, 1.6), [0, -5, -15, -25], (-4.2, -2.34),
     KL_RANGE, KL_TS_D, KL_TS, KL_Z95_D, KL_Z95, KL_Z8_D, KL_Z8, KL_N2_D, KL_N2, None),
    ("CE042", "(f)", box(563.3, 640.0), (-40.9, 1.5), [0, -10, -20, -30, -40], (-4.18, -2.38),
     CE_RANGE, CE_TS_D, CE_TS, CE_Z95_D, CE_Z95, CE_Z8_D, CE_Z8, CE_N2_D, CE_N2, None),
]
heat_axes = []
cs_ref = None
for (name, tag, rect, ylim, yt, n2lim, rng, tsd, tsv, ad, av, bd, bv, nd, nv, gap) in stations:
    ax = fig.add_axes(rect)
    ax2 = ax.twinx()
    style(ax, line_ax=ax2)
    ax.set_ylim(*ylim)
    ax.set_yticks(yt)
    ax.set_yticklabels([str(v) for v in yt])
    if len(yt) == 4:
        ax.tick_params(axis='y', labelsize=10.5)
    t, z, T = temp_field(rng, tsd, tsv, ad, av, bd, bv)
    if gap is not None:
        tt, zz = np.meshgrid(t, z)
        T = np.ma.masked_where((tt < gap[0]) & (zz > gap[1]), T)
    cs = ax.contourf(t, z, T, levels=LEVELS, cmap=cmap, zorder=1)
    if cs_ref is None:
        cs_ref = cs
    ax.contour(t, z, T, levels=[8.0, 9.5], colors='white', linewidths=1.2,
               linestyles=[(0, (1, 1))], zorder=2)
    ax.plot([rng[0], rng[1]], [0.3, 0.3], color='black', lw=1.8, zorder=3)
    ax.spines['right'].set_visible(False)
    ax2.set_ylim(*n2lim)
    ax2.set_yticks([-4.2, -3.8, -3.4, -3.0, -2.6])
    ax2.set_yticklabels(["-4.2", "-3.8", "-3.4", "-3", "-2.6"])
    ax2.set_yticks([-4.0, -3.6, -3.2, -2.8], minor=True)
    ax2.tick_params(axis='y', which='both', direction='out', colors=N2_COLOR, labelsize=TICK_FS, pad=2)
    ax2.tick_params(axis='y', which='minor', length=3)
    for sp in ('left', 'top', 'bottom'):
        ax2.spines[sp].set_visible(False)
    ax2.spines['right'].set_color(N2_COLOR)
    ax2.spines['right'].set_linewidth(1.2)
    ax2.plot(nd, nv, color='#3ab3c3', lw=1.4, zorder=4)
    ax.text(0.015, 0.79, tag, transform=ax.transAxes, style='italic', fontsize=13, va='center')
    ax.plot([0.083], [0.79], 'o', ms=11, color=STATION_COLORS[name], transform=ax.transAxes,
            clip_on=False)
    ax.text(0.09, 0.49, name, transform=ax.transAxes, fontsize=14.5, ha='center', va='center')
    heat_axes.append(ax)

ax_c, ax_d, ax_e, ax_f = heat_axes
ax_c.text(65.4, -0.16, "*", transform=mtransforms.blended_transform_factory(ax_c.transData, ax_c.transAxes),
          ha='center', va='center', fontsize=13)
ax_f.text(111.6, -0.14, "*", transform=mtransforms.blended_transform_factory(ax_f.transData, ax_f.transAxes),
          ha='center', va='center', fontsize=13)

# shading that spans panels (e)-(f)
shade_tr = mtransforms.blended_transform_factory(ax_e.transData, fig.transFigure)
for s0, s1 in SHADE:
    fig.add_artist(Rectangle((s0, 1 - 650 / H_PX), s1 - s0, (650 - 452.7) / H_PX,
                             transform=shade_tr, color=SHADE_COLOR, lw=0, zorder=-1))


# ---------------- (g), (h) ----------------
def do_panel(rect, tag, series, shade, labels):
    ax = fig.add_axes(rect)
    style(ax, labels=labels)
    ax.set_ylim(0, 6.6)
    ax.set_yticks([0, 2, 4, 6])
    ax.set_yticks([1, 3, 5], minor=True)
    ax.tick_params(axis='y', which='both', right=True)
    if shade:
        for s0, s1 in SHADE:
            ax.axvspan(s0, s1, color=SHADE_COLOR, lw=0, zorder=0.5)
    for top, col in zip(HYPOXIA_TOP, HYPOXIA_COLORS):
        ax.axhspan(0, top, color=col, lw=0, zorder=0.6)
    for d, v, name in series:
        ax.plot(d, v, color=DO_COLORS[name], lw=1.5, zorder=4)
    ax.text(0.015, 0.70, tag, transform=ax.transAxes, style='italic', fontsize=13, va='center')
    return ax


ax_g = do_panel(box(664.3, 743.3), "(g)", [(MB_DO_D, MB_DO, "MB042"), (TH_DO_D, TH_DO, "TH042")],
                False, False)
ax_g.text(22.2, 4.1, "MB042", color=DO_COLORS["MB042"], fontsize=14, ha='center', va='center')
ax_g.text(139.0, 5.1, "MB042", color=DO_COLORS["MB042"], fontsize=14, ha='center', va='center')
ax_g.text(106.3, 0.92, "**", color='#555555', fontsize=12, ha='center', va='center')

ax_h = do_panel(box(769.3, 846.7), "(h)", [(CE_DO_D, CE_DO, "CE042"), (KL_DO_D, KL_DO, "KL027")],
                True, True)
ax_h.text(38.4, 5.4, "KL027", color=DO_COLORS["KL027"], fontsize=14, ha='center', va='center')
ax_h.text(133.8, 4.57, "KL027", color=DO_COLORS["KL027"], fontsize=14, ha='center', va='center')
ax_h.text(END_LABEL[0], -0.10, END_LABEL[1], fontsize=TICK_FS + 0.5, ha='center', va='top',
          transform=mtransforms.blended_transform_factory(ax_h.transData, ax_h.transAxes))
fig.text(785 / W_PX, 1 - 890 / H_PX, "2017", fontsize=12.5, ha='center', va='center')

# ---------------- colorbar ----------------
cax = fig.add_axes([39 / W_PX, 1 - 600 / H_PX, 29 / W_PX, 310 / H_PX])
cb = fig.colorbar(cs_ref, cax=cax, ticks=[9, 10, 11, 12, 13, 14, 15, 16])
cb.outline.set_edgecolor('#555555')
cax.tick_params(labelsize=12.5, length=3, pad=2)
cax.set_yticklabels(["9", "10", "11", "12", "13", "14", "15", "16"])
cax.yaxis.set_label_position('left')
cax.set_ylabel("near-bottom temperature", fontsize=12.5, labelpad=4)
cax.axhline(9.5, color='white', ls=(0, (1, 1)), lw=1.4)
cax.axhline(8.0, color='white', ls=(0, (1, 1)), lw=1.4)
cax.axhline(7.5, color='white', lw=1.3)
cb_tr = mtransforms.blended_transform_factory(cax.transAxes, cax.transData)
for val, lab, sty in [(9.5, "9.5°C", 'italic'), (8.0, "8", 'normal'), (7.5, "7.5°C", 'italic')]:
    cax.annotate(lab, xy=(1.05, val), xycoords=cb_tr, xytext=(1.05 + 30 / 29, val), textcoords=cb_tr,
                 fontsize=12.5, style=sty, va='center', ha='left',
                 arrowprops=dict(arrowstyle='-|>', color='black', lw=1.1, mutation_scale=12,
                                 shrinkA=1, shrinkB=0))
cax.text(1.15, -0.028, "7°C", transform=cax.transAxes, style='italic', fontsize=12.5, va='center')

# ---------------- axis labels and brackets ----------------
fig.text(134 / W_PX, 1 - 75 / H_PX, r"$\tau$; $W_8$, N m$^{-2}$", rotation=90, fontsize=14,
         ha='center', va='center')
fig.text(137 / W_PX, 1 - 202 / H_PX, "Q, m$^3$ s$^{-1}$", rotation=90, fontsize=14,
         color=BLUE_TXT, ha='center', va='center')
fig.text(799 / W_PX, 1 - 203 / H_PX, "Q, m$^3$ s$^{-1}$", rotation=-90, fontsize=14,
         ha='center', va='center')
fig.text(163 / W_PX, 1 - 433 / H_PX, "Depth, m", rotation=90, fontsize=14, ha='center', va='center')
fig.text(163 / W_PX, 1 - 762 / H_PX, "DO, mL L$^{-1}$", rotation=90, fontsize=14,
         ha='center', va='center')
fig.text(801 / W_PX, 1 - 440 / H_PX, r"log$_{10}$(N$^2$), s$^{-1}$", rotation=-90, fontsize=13,
         color=N2_COLOR, ha='center', va='center')


def bracket(x, y0, y1, g0, g1, hook, color='#333333'):
    kw = dict(transform=fig.transFigure, color=color, lw=1.0)
    fx = x / W_PX
    hx = (x + hook) / W_PX
    fig.add_artist(Line2D([hx, fx, fx], [1 - y0 / H_PX, 1 - y0 / H_PX, 1 - g0 / H_PX], **kw))
    fig.add_artist(Line2D([fx, fx, hx], [1 - g1 / H_PX, 1 - y1 / H_PX, 1 - y1 / H_PX], **kw))


bracket(171, 258, 648, 392, 478, 8)
bracket(171, 666, 853, 712, 815, 8)
bracket(809, 258, 645, 378, 505, -8, color=N2_COLOR)

# ---------------- bottom-left legend ----------------
for i, name in enumerate(["MB042", "TH042", "KL027", "CE042"]):
    y = 1 - (673 + 21.3 * i) / H_PX
    fig.add_artist(Line2D([15 / W_PX, 58 / W_PX], [y, y], color=DO_COLORS[name], lw=1.8,
                          transform=fig.transFigure))
    fig.text(66 / W_PX, y, name, fontsize=12.5, va='center')
fig.text(9 / W_PX, 1 - 768 / H_PX, "Hypoxic thresholds", style='italic', fontsize=12.5, va='center')
for i, (name, col) in enumerate(zip(HYPOXIA_NAMES, HYPOXIA_COLORS)):
    yc = 787 + 21.3 * i
    fig_rect(18, yc, 22, 15, color=col, lw=0)
    fig.text(44 / W_PX, 1 - (yc + 7.5) / H_PX, name, fontsize=12.5, va='center')

fig.savefig("out.png", dpi=100)
